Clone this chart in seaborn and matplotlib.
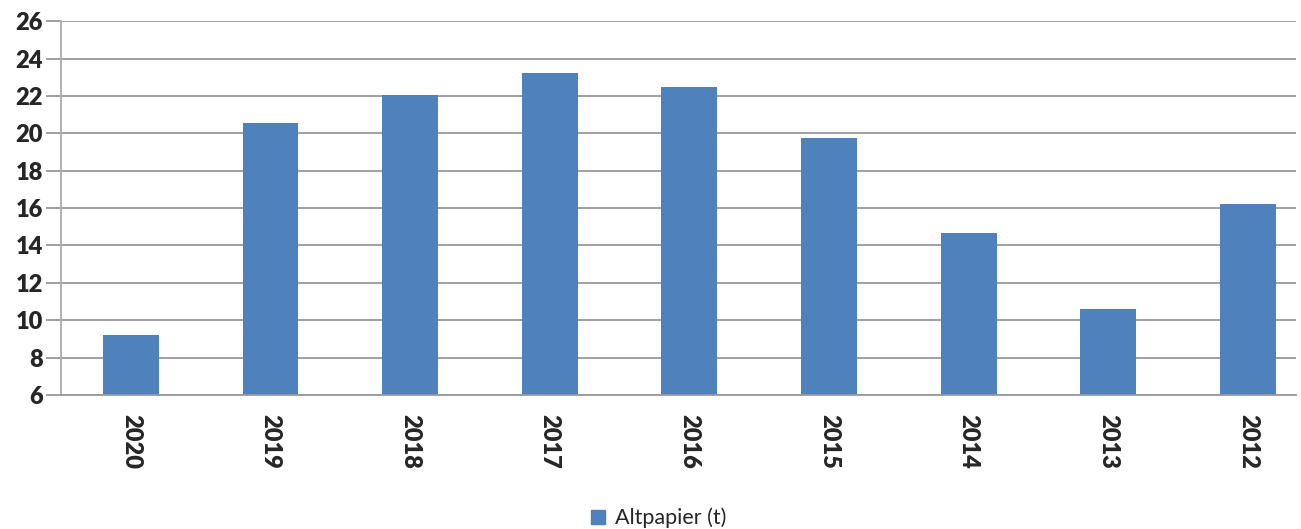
import numpy as np
import pandas as pd
import matplotlib.pyplot as plt
import seaborn as sns

# Altpapier pro Jahr
jahre = ["2020", "2019", "2018", "2017", "2016", "2015", "2014", "2013", "2012"]
altpapier = [9.2, 20.55, 22.05, 23.2, 22.5, 19.75, 14.65, 10.6, 16.2]

df = pd.DataFrame({"Jahr": jahre, "Altpapier (t)": altpapier})

sns.set_style("white")
plt.rcParams["font.family"] = ["Lato", "DejaVu Sans"]

fig = plt.figure(figsize=(13.01, 5.29), dpi=100)
ax = fig.add_axes([0.0469, 0.2533, 0.9493, 0.7067])

sns.barplot(data=df, x="Jahr", y="Altpapier (t)", order=jahre, color="#4F81BD",
            saturation=1, width=0.4, ax=ax, label="Altpapier (t)", legend=False,
            linewidth=0)

ax.set_ylim(6, 26)
ax.set_yticks(np.arange(6, 27, 2))
ax.set_xlabel("")
ax.set_ylabel("")
ax.set_axisbelow(True)
ax.yaxis.grid(True, color="#999999", linewidth=1.3)

for s in ["top", "right"]:
    ax.spines[s].set_visible(False)
ax.spines["left"].set_color("#aaaaaa")
ax.spines["bottom"].set_color("#999999")
ax.spines["left"].set_linewidth(1.3)
ax.spines["bottom"].set_linewidth(1.3)

ax.set_xticks(np.arange(-0.5, 9, 1), minor=True)
ax.set_xlim(-0.5, 8.345)
ax.tick_params(axis="x", which="major", length=0, pad=14)
ax.tick_params(axis="x", which="minor", length=12, color="#aaaaaa", width=1.3)
ax.tick_params(axis="y", which="major", left=True, length=11, color="#999999", width=1.3, pad=2)

for lab in ax.get_xticklabels():
    lab.set_rotation(-90)
    lab.set_fontsize(17)
    lab.set_fontweight("heavy")
    lab.set_va("top")
    lab.set_ha("center")
for lab in ax.get_yticklabels():
    lab.set_fontsize(17)
    lab.set_fontweight("heavy")

handle = plt.Line2D([], [], marker="s", linestyle="", color="#4F81BD", markersize=10.5)
fig.legend([handle], ["Altpapier (t)"], loc="lower center", bbox_to_anchor=(0.505, -0.035),
           frameon=False, fontsize=15.5, handletextpad=0.3, handlelength=1.0)

fig.savefig("out.png", dpi=100)
